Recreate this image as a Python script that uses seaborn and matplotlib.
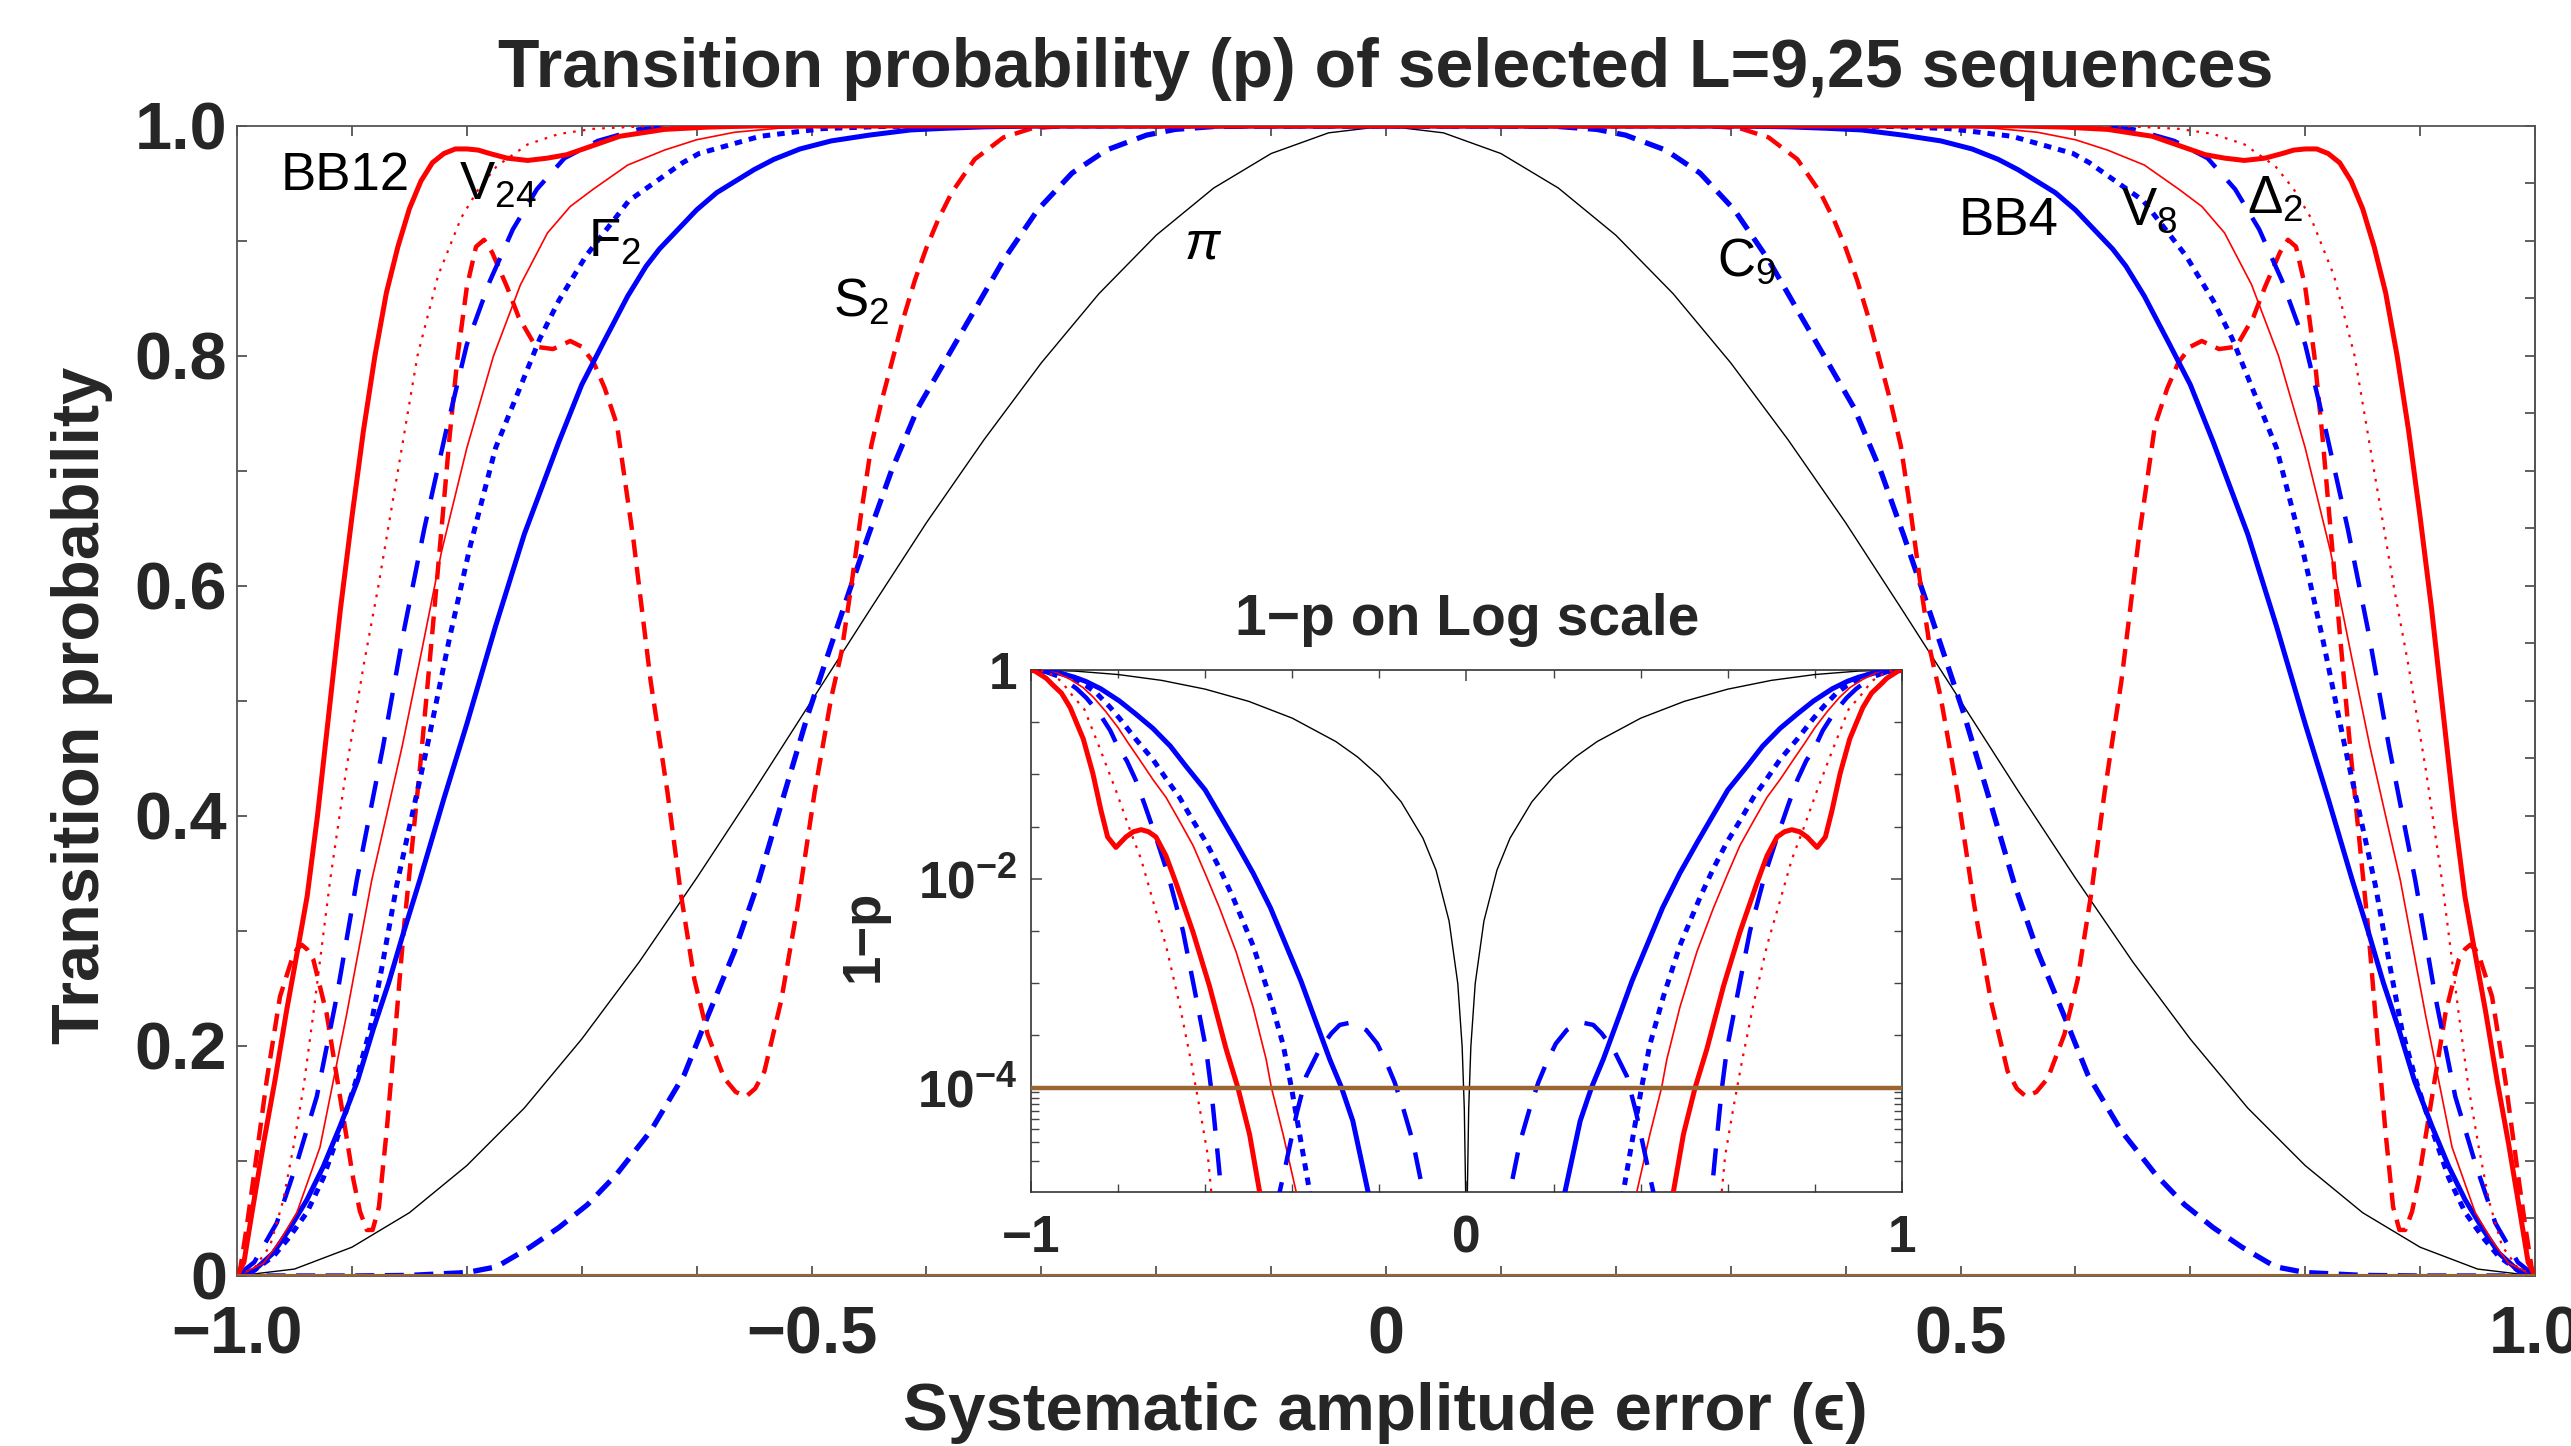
import numpy as np
import seaborn as sns
import matplotlib.pyplot as plt
from matplotlib.ticker import FixedLocator, NullFormatter

sns.set_theme(style="ticks")
plt.rcParams['font.family'] = ['Liberation Sans', 'DejaVu Sans']
plt.rcParams['mathtext.fontset'] = 'custom'
plt.rcParams['mathtext.rm'] = 'Liberation Sans'
plt.rcParams['mathtext.it'] = 'Liberation Sans:italic'
plt.rcParams['mathtext.bf'] = 'Liberation Sans:bold'

RED = '#ff0000'
BLUE = '#0000ff'
BROWN = '#996633'

# ---- main panel, left half (eps <= 0); the picture is symmetric in eps ----
eps_pi = [-1.0, -0.95, -0.9, -0.85, -0.8, -0.75, -0.7, -0.65, -0.6, -0.55, -0.5,
          -0.45, -0.4, -0.35, -0.3, -0.25, -0.2, -0.15, -0.1, -0.05, 0.0]
p_pi = [0.0, 0.006, 0.025, 0.055, 0.096, 0.146, 0.206, 0.273, 0.346, 0.422, 0.5,
        0.578, 0.655, 0.727, 0.794, 0.854, 0.905, 0.946, 0.976, 0.994, 1.0]

eps_bb12 = [-1.0, -0.994, -0.987, -0.977, -0.967, -0.957, -0.947, -0.939, -0.93, -0.92,
            -0.91, -0.9, -0.89, -0.88, -0.87, -0.86, -0.85, -0.84, -0.83, -0.82,
            -0.81, -0.8, -0.79, -0.78, -0.765, -0.747, -0.73, -0.713, -0.69, -0.667,
            -0.628, -0.59, -0.55, 0.0]
p_bb12 = [0.0, 0.012, 0.055, 0.115, 0.17, 0.23, 0.285, 0.33, 0.4, 0.49,
          0.58, 0.66, 0.735, 0.8, 0.855, 0.895, 0.928, 0.952, 0.968, 0.976,
          0.98, 0.98, 0.979, 0.976, 0.972, 0.97, 0.972, 0.975, 0.983, 0.991,
          0.997, 0.999, 1.0, 1.0]

eps_d2 = [-1.0, -0.985, -0.9713, -0.96, -0.951, -0.942, -0.9336, -0.919, -0.905, -0.89,
          -0.877, -0.86, -0.843, -0.825, -0.805, -0.79, -0.774, -0.747, -0.72, -0.69,
          -0.65, -0.6, 0.0]
p_d2 = [0.0, 0.007, 0.026, 0.065, 0.112, 0.165, 0.228, 0.344, 0.44, 0.53,
        0.6, 0.7, 0.8, 0.87, 0.92, 0.945, 0.965, 0.984, 0.993, 0.9975,
        0.9995, 1.0, 1.0]

eps_v8 = [-1.0, -0.9771, -0.963, -0.948, -0.9278, -0.9045, -0.8828, -0.87, -0.8564, -0.84,
          -0.822, -0.8, -0.7768, -0.7533, -0.7298, -0.71, -0.69, -0.66, -0.628, -0.6,
          -0.567, -0.529, -0.48, -0.42, 0.0]
p_v8 = [0.0, 0.011, 0.03, 0.055, 0.112, 0.228, 0.344, 0.4, 0.46, 0.54,
        0.63, 0.72, 0.8, 0.862, 0.907, 0.93, 0.945, 0.966, 0.979, 0.988,
        0.9945, 0.998, 0.9995, 1.0, 1.0]

eps_v24 = [-1.0, -0.985, -0.9655, -0.948, -0.9306, -0.9132, -0.8958, -0.873, -0.855, -0.837,
           -0.818, -0.8, -0.78, -0.76, -0.739, -0.715, -0.686, -0.651, -0.62, -0.58, 0.0]
p_v24 = [0.0, 0.012, 0.046, 0.098, 0.156, 0.243, 0.344, 0.46, 0.56, 0.65,
         0.735, 0.81, 0.865, 0.91, 0.945, 0.972, 0.987, 0.997, 0.9993, 1.0, 1.0]

eps_f2 = [-1.0, -0.985, -0.9684, -0.955, -0.9393, -0.925, -0.9104, -0.897, -0.8842, -0.874,
          -0.861, -0.8346, -0.815, -0.797, -0.775, -0.7365, -0.72, -0.6963, -0.659, -0.6122,
          -0.598, -0.5448, -0.49, -0.44, -0.38, 0.0]
p_f2 = [0.0, 0.005, 0.017, 0.033, 0.055, 0.085, 0.127, 0.168, 0.214, 0.268,
        0.34, 0.46, 0.555, 0.635, 0.72, 0.815, 0.848, 0.887, 0.935, 0.968,
        0.976, 0.991, 0.9977, 0.9995, 1.0, 1.0]

eps_bb4 = [-1.0, -0.985, -0.9684, -0.955, -0.9393, -0.925, -0.9104, -0.895, -0.8813, -0.868,
           -0.8553, -0.8407, -0.82, -0.8, -0.775, -0.75, -0.72, -0.7, -0.682, -0.66,
           -0.644, -0.6324, -0.6, -0.5825, -0.55, -0.5327, -0.51, -0.4828, -0.45, -0.414,
           -0.383, -0.35, -0.3, 0.0]
p_bb4 = [0.0, 0.005, 0.02, 0.04, 0.066, 0.095, 0.13, 0.17, 0.215, 0.255,
         0.298, 0.345, 0.415, 0.48, 0.565, 0.645, 0.725, 0.775, 0.81, 0.852,
         0.878, 0.893, 0.927, 0.942, 0.962, 0.971, 0.98, 0.987, 0.992, 0.9965,
         0.998, 0.9992, 1.0, 1.0]

eps_s2 = [-1.0, -0.9974, -0.992, -0.9858, -0.9742, -0.9626, -0.9524, -0.948, -0.9437, -0.939,
          -0.9336, -0.922, -0.9104, -0.8988, -0.893, -0.8871, -0.882, -0.8765, -0.8697, -0.861,
          -0.855, -0.848, -0.84, -0.83, -0.822, -0.815, -0.808, -0.8, -0.792, -0.785,
          -0.778, -0.765, -0.755, -0.74, -0.725, -0.71, -0.7, -0.6895, -0.68, -0.6693,
          -0.655, -0.64, -0.6253, -0.6137, -0.602, -0.5904, -0.576, -0.566, -0.557, -0.549,
          -0.541, -0.5265, -0.512, -0.4974, -0.4828, -0.474, -0.4654, -0.4567, -0.448, -0.4392,
          -0.43, -0.42, -0.41, -0.4, -0.39, -0.378, -0.358, -0.333, -0.308, -0.28, 0.0]
p_s2 = [0.0, 0.005, 0.04, 0.084, 0.17, 0.243, 0.275, 0.284, 0.288, 0.284,
        0.275, 0.228, 0.156, 0.084, 0.056, 0.04, 0.04, 0.06, 0.127, 0.228,
        0.3, 0.37, 0.45, 0.56, 0.65, 0.73, 0.8, 0.86, 0.895, 0.901,
        0.89, 0.86, 0.834, 0.808, 0.806, 0.813, 0.808, 0.794, 0.772, 0.74,
        0.64, 0.517, 0.42, 0.332, 0.258, 0.21, 0.172, 0.16, 0.156, 0.163,
        0.178, 0.239, 0.322, 0.42, 0.503, 0.542, 0.6, 0.664, 0.722, 0.76,
        0.795, 0.833, 0.866, 0.894, 0.918, 0.942, 0.971, 0.99, 0.998, 1.0, 1.0]

eps_c9 = [-1.0, -0.9, -0.85, -0.8, -0.774, -0.745, -0.72, -0.695, -0.67, -0.64,
          -0.6108, -0.5919, -0.5672, -0.5468, -0.5235, -0.5032, -0.4858, -0.4683, -0.4509, -0.4305,
          -0.4073, -0.383, -0.358, -0.3332, -0.3032, -0.2733, -0.2434, -0.2085, -0.1835, -0.15,
          -0.1, 0.0]
p_c9 = [0.0, 0.0, 0.0005, 0.003, 0.008, 0.025, 0.042, 0.062, 0.088, 0.126,
        0.175, 0.222, 0.282, 0.341, 0.42, 0.488, 0.54, 0.592, 0.643, 0.7,
        0.755, 0.797, 0.84, 0.883, 0.927, 0.959, 0.979, 0.992, 0.997, 0.9995,
        1.0, 1.0]

# ---- inset: log10(1-p), left half ----
ieps_pi = [-1.0, -0.9, -0.8, -0.7, -0.6, -0.5, -0.4, -0.3, -0.25, -0.2,
           -0.15, -0.1, -0.07, -0.04, -0.02, -0.01, -0.005, -0.002, 0.0]
ilog_pi = [0.0, -0.011, -0.044, -0.1, -0.184, -0.301, -0.462, -0.686, -0.834, -1.02,
           -1.264, -1.611, -1.917, -2.405, -3.004, -3.607, -4.21, -5.0, -8.0]

ieps_bb12 = [-1.0, -0.99, -0.98, -0.965, -0.95, -0.93, -0.91, -0.88, -0.858, -0.839,
             -0.824, -0.805, -0.782, -0.765, -0.747, -0.73, -0.713, -0.69, -0.667, -0.628,
             -0.59, -0.552, -0.525, -0.498, -0.475, -0.46]
ilog_bb12 = [0.0, -0.013, -0.04, -0.08, -0.143, -0.222, -0.36, -0.66, -0.99, -1.35,
             -1.6, -1.7, -1.6, -1.55, -1.53, -1.55, -1.6, -1.78, -2.04, -2.51,
             -3.03, -3.63, -4.0, -4.45, -5.0, -5.4]

ieps_d2 = [-1.0, -0.97, -0.95, -0.93, -0.91, -0.877, -0.843, -0.805, -0.774, -0.747,
           -0.72, -0.69, -0.659, -0.632, -0.613, -0.594, -0.586, -0.575]
ilog_d2 = [0.0, -0.011, -0.05, -0.11, -0.22, -0.38, -0.74, -1.154, -1.517, -1.814,
           -2.21, -2.64, -3.2, -3.76, -4.19, -4.65, -5.0, -5.4]

ieps_v8 = [-1.0, -0.97, -0.94, -0.91, -0.88, -0.856, -0.828, -0.8, -0.7768, -0.751,
           -0.72, -0.69, -0.66, -0.628, -0.6, -0.567, -0.529, -0.49, -0.46, -0.448,
           -0.421, -0.391, -0.375]
ilog_v8 = [0.0, -0.008, -0.03, -0.09, -0.17, -0.265, -0.4, -0.553, -0.7, -0.857,
           -1.05, -1.22, -1.44, -1.68, -1.95, -2.28, -2.7, -3.23, -3.73, -4.0,
           -4.45, -5.0, -5.4]

ieps_v24 = [-1.0, -0.965, -0.93, -0.895, -0.873, -0.855, -0.837, -0.818, -0.8, -0.78,
            -0.76, -0.739, -0.715, -0.686, -0.651, -0.625, -0.598, -0.586, -0.571, -0.563,
            -0.55, -0.5, -0.45, -0.429, -0.414, -0.39, -0.368, -0.337, -0.31, -0.291,
            -0.268, -0.25, -0.23, -0.205, -0.184, -0.165, -0.146, -0.123, -0.0996, -0.085]
ilog_v24 = [0.0, -0.02, -0.073, -0.18, -0.267, -0.357, -0.456, -0.58, -0.74, -0.87,
            -1.05, -1.29, -1.58, -1.95, -2.5, -3.05, -3.63, -4.02, -4.65, -5.0,
            -5.8, -7.0, -6.0, -5.0, -4.72, -4.25, -3.89, -3.63, -3.48, -3.4,
            -3.38, -3.4, -3.45, -3.58, -3.76, -3.95, -4.19, -4.52, -5.0, -5.5]

ieps_f2 = [-1.0, -0.97, -0.94, -0.91, -0.874, -0.85, -0.82, -0.797, -0.76, -0.72,
           -0.69, -0.659, -0.63, -0.598, -0.567, -0.536, -0.49, -0.452, -0.421, -0.402,
           -0.383, -0.36, -0.345]
ilog_f2 = [0.0, -0.007, -0.025, -0.06, -0.148, -0.22, -0.35, -0.462, -0.66, -0.857,
           -1.04, -1.22, -1.43, -1.65, -1.9, -2.18, -2.64, -3.13, -3.59, -4.0,
           -4.45, -5.0, -5.4]

ieps_bb4 = [-1.0, -0.96, -0.93, -0.9, -0.874, -0.84, -0.797, -0.76, -0.72, -0.68,
            -0.644, -0.6, -0.567, -0.53, -0.49, -0.45, -0.414, -0.38, -0.352, -0.314,
            -0.287, -0.261, -0.226, -0.21]
ilog_bb4 = [0.0, -0.009, -0.035, -0.07, -0.11, -0.18, -0.297, -0.42, -0.56, -0.73,
            -0.923, -1.15, -1.385, -1.65, -1.946, -2.28, -2.64, -2.98, -3.3, -3.73,
            -4.0, -4.32, -5.0, -5.4]

threshold = 1e-4

# curve styles: (color, linewidth, linestyle, zorder)
styles = {
    'pi':   ('black', 1.0, '-', 2),
    'c9':   (BLUE, 3.8, (0, (3.6, 2.0)), 3),
    's2':   (RED, 3.2, (0, (4.0, 2.2)), 4),
    'bb4':  (BLUE, 3.6, '-', 5),
    'f2':   (BLUE, 3.6, (0, (1.5, 1.4)), 5),
    'v8':   (RED, 1.2, '-', 6),
    'v24':  (BLUE, 3.2, (0, (6.1, 4.0)), 6),
    'd2':   (RED, 1.6, (0, (1.2, 3.2)), 6),
    'bb12': (RED, 3.6, '-', 7),
}


def both_sides(ax, eps, vals, key):
    col, lw, ls, z = styles[key]
    eps = np.asarray(eps)
    vals = np.asarray(vals)
    for xs in (eps, -eps):
        sns.lineplot(x=xs, y=vals, ax=ax, color=col, linewidth=lw, linestyle=ls,
                     estimator=None, errorbar=None, sort=False, legend=False, zorder=z)


fig = plt.figure(figsize=(25.71, 14.46), dpi=100)
ax = fig.add_axes([0.0922, 0.1176, 0.8938, 0.7953])

both_sides(ax, eps_pi, p_pi, 'pi')
both_sides(ax, eps_c9, p_c9, 'c9')
both_sides(ax, eps_s2, p_s2, 's2')
both_sides(ax, eps_bb4, p_bb4, 'bb4')
both_sides(ax, eps_f2, p_f2, 'f2')
both_sides(ax, eps_v8, p_v8, 'v8')
both_sides(ax, eps_v24, p_v24, 'v24')
both_sides(ax, eps_d2, p_d2, 'd2')
both_sides(ax, eps_bb12, p_bb12, 'bb12')
ax.axhline(0, color=BROWN, lw=3, zorder=8)

ax.set_xlim(-1, 1)
ax.set_ylim(0, 1)
ax.set_xlabel('')
ax.set_ylabel('')
ax.set_xticks([-1, -0.5, 0, 0.5, 1], ['\u22121.0', '\u22120.5', '0', '0.5', '1.0'])
ax.set_yticks([0, 0.2, 0.4, 0.6, 0.8, 1.0], ['0', '0.2', '0.4', '0.6', '0.8', '1.0'])
ax.xaxis.set_minor_locator(FixedLocator([-0.9, -0.8, -0.7, -0.6, -0.4, -0.3, -0.2, -0.1,
                                         0.1, 0.2, 0.3, 0.4, 0.6, 0.7, 0.8, 0.9]))
ax.yaxis.set_minor_locator(FixedLocator([0.1, 0.3, 0.5, 0.7, 0.9]))
ax.tick_params(which='both', direction='in', length=7.5, width=1.2, color='#444444',
               top=True, right=False, labelsize=48)
ax.tick_params(axis='x', pad=21)
ax.tick_params(axis='y', pad=7)
for lbl in ax.get_xticklabels() + ax.get_yticklabels():
    lbl.set_fontweight('bold')
sec = ax.secondary_yaxis('right')
sec.set_yticks([i * 0.05 for i in range(21)])
sec.yaxis.set_major_formatter(NullFormatter())
sec.tick_params(direction='in', length=7.5, width=1.2, color='#444444')
for s in list(ax.spines.values()) + list(sec.spines.values()):
    s.set_color('#555555')
    s.set_linewidth(1.3)

# curve labels
lab_kw = dict(fontsize=38, color='black', ha='left', va='baseline', zorder=10)
ax.text(-0.962, 0.944, 'BB12', **lab_kw)
ax.text(-0.807, 0.936, 'V$_{24}$', **lab_kw)
ax.text(-0.6945, 0.886, 'F$_2$', **lab_kw)
ax.text(-0.481, 0.834, 'S$_2$', **lab_kw)
ax.text(-0.176, 0.885, '$\\pi$', **lab_kw)
ax.text(0.288, 0.870, 'C$_9$', **lab_kw)
ax.text(0.498, 0.905, 'BB4', **lab_kw)
ax.text(0.640, 0.914, 'V$_8$', **lab_kw)
ax.text(0.749, 0.924, '\u0394$_2$', **lab_kw)

fig.text(0.539, 0.952, 'Transition probability (p) of selected L=9,25 sequences',
         ha='center', va='center', fontsize=49, fontweight='bold')
fig.text(0.539, 0.023, 'Systematic amplitude error (\u03f5)',
         ha='center', va='center', fontsize=48.5, fontweight='bold')
fig.text(0.032, 0.512, 'Transition probability', rotation=90,
         ha='center', va='center', fontsize=48, fontweight='bold')

# ---- inset ----
axin = fig.add_axes([0.401, 0.1757, 0.3388, 0.361])
axin.set_facecolor('white')
axin.set_yscale('log')
both_sides(axin, ieps_pi, [10 ** v for v in ilog_pi], 'pi')
both_sides(axin, ieps_bb4, [10 ** v for v in ilog_bb4], 'bb4')
both_sides(axin, ieps_f2, [10 ** v for v in ilog_f2], 'f2')
both_sides(axin, ieps_v8, [10 ** v for v in ilog_v8], 'v8')
both_sides(axin, ieps_v24, [10 ** v for v in ilog_v24], 'v24')
both_sides(axin, ieps_d2, [10 ** v for v in ilog_d2], 'd2')
both_sides(axin, ieps_bb12, [10 ** v for v in ilog_bb12], 'bb12')
axin.axhline(threshold, color=BROWN, lw=3.2, zorder=9)
axin.set_xlim(-1, 1)
axin.set_ylim(1e-5, 1)
axin.set_xlabel('')
axin.set_ylabel('')
axin.set_xticks([-1, 0, 1], ['\u22121', '0', '1'])
axin.xaxis.set_minor_locator(FixedLocator([-0.8, -0.6, -0.4, -0.2, 0.2, 0.4, 0.6, 0.8]))
axin.set_yticks([1, 1e-2, 1e-4], ['1', '$\\mathbf{10^{-2}}$', '$\\mathbf{10^{-4}}$'])
axin.yaxis.set_minor_locator(FixedLocator(
    [10 ** -0.5, 0.1, 10 ** -1.5, 10 ** -2.5, 1e-3, 10 ** -3.5]
    + [k * 1e-5 for k in range(2, 10)]))
axin.yaxis.set_minor_formatter(NullFormatter())
axin.tick_params(which='major', direction='in', length=8, width=1.1, color='#444444',
                 top=True, right=True, labelsize=37, pad=10)
axin.tick_params(which='minor', direction='in', length=6, width=1.0, color='#444444',
                 top=True, right=True)
axin.tick_params(axis='x', pad=16)
for lbl in axin.get_xticklabels() + axin.get_yticklabels():
    lbl.set_fontweight('bold')
for s in axin.spines.values():
    s.set_color('#333333')
    s.set_linewidth(1.2)

fig.text(0.5705, 0.571, '1\u2212p on Log scale', ha='center', va='center',
         fontsize=41, fontweight='bold')
fig.text(0.336, 0.353, '1\u2212p', rotation=90, ha='center', va='center',
         fontsize=38, fontweight='bold')

fig.savefig('out.png', dpi=100)
